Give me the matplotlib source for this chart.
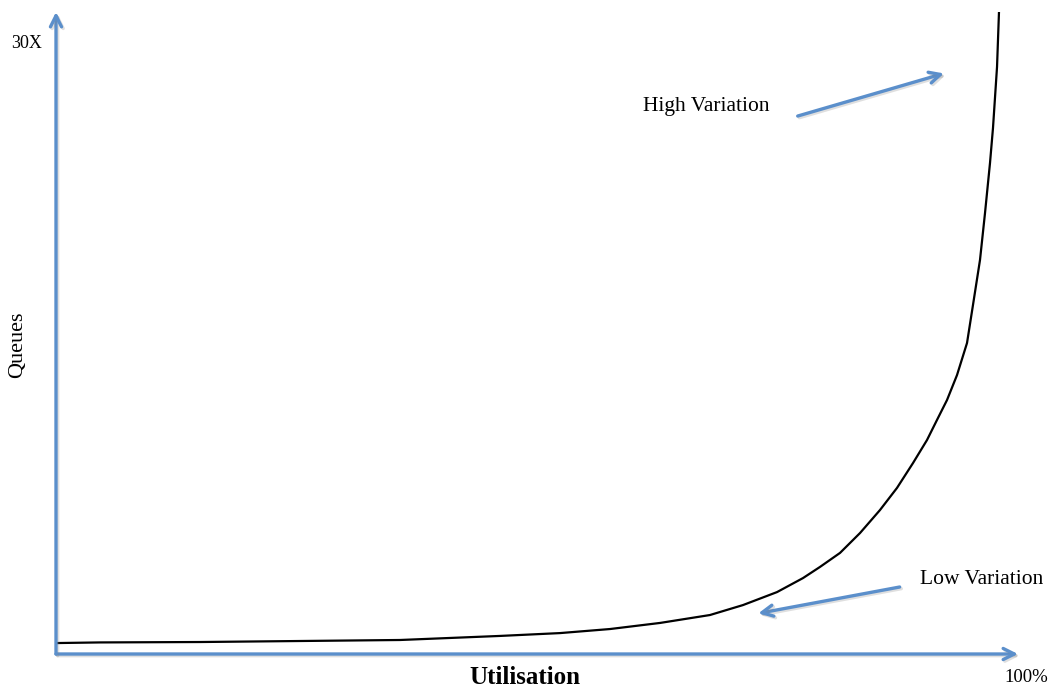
import matplotlib
matplotlib.use("Agg")
import matplotlib.pyplot as plt
import matplotlib.patheffects as pe

# utilisation (%) vs queue length (multiple of base)
utilisation = [0.21, 4.57, 14.97, 25.36, 35.76, 46.15, 52.39, 57.59, 62.79,
               67.98, 71.41, 74.95, 77.65, 79.42, 81.50, 83.58, 85.65, 87.42,
               89.09, 90.54, 91.58, 92.62, 93.66, 94.70, 95.32, 96.05, 96.57,
               97.09, 97.40, 97.82, 98.02]
queues = [0.54, 0.57, 0.59, 0.64, 0.69, 0.89, 1.03, 1.23, 1.53, 1.92, 2.41,
          3.05, 3.74, 4.29, 4.98, 5.96, 7.09, 8.18, 9.41, 10.54, 11.53, 12.51,
          13.74, 15.32, 17.19, 19.41, 21.72, 24.19, 25.91, 28.92, 31.58]

blue = "#5B8FCB"
plt.rcParams["font.family"] = ["Liberation Serif", "DejaVu Serif"]

fig = plt.figure(figsize=(10.5, 6.89), dpi=100)
W, H = 1050, 689
x0, x1, y0, y1 = 56, 1018, 654, 12
ax = fig.add_axes([x0 / W, (H - y0) / H, (x1 - x0) / W, (y0 - y1) / H])
ax.set_xlim(0, 100)
ax.set_ylim(0, (y0 - y1) / 20.3)
ax.axis("off")

ax.plot(utilisation, queues, color="black", lw=1.6, solid_joinstyle="round")

# axes as arrows, with a faint drop shadow
shadow = [pe.SimpleLineShadow(offset=(1.2, -1.2), shadow_color="gray", alpha=0.25),
          pe.Normal()]
arrow = dict(arrowstyle="->,head_length=0.8,head_width=0.4", color=blue, lw=2.4,
             shrinkA=0, shrinkB=0, path_effects=shadow)
ax.annotate("", xy=(1, 0), xytext=(0, 0), xycoords="axes fraction", arrowprops=arrow)
ax.annotate("", xy=(0, 1), xytext=(0, 0), xycoords="axes fraction", arrowprops=arrow)

# callouts
ax.annotate("", xy=(92.3, 28.6), xytext=(77.1, 26.5), arrowprops=arrow)
ax.annotate("", xy=(73.0, 2.0), xytext=(87.7, 3.3), arrowprops=arrow)

fig.text(643 / W, 1 - 107 / H, "High Variation", fontsize=15.5, va="center", ha="left")
fig.text(920 / W, 1 - 580 / H, "Low Variation", fontsize=15.5, va="center", ha="left")
fig.text(27 / W, 1 - 44 / H, "30X", fontsize=13, va="center", ha="center")
fig.text(1026 / W, 1 - 677 / H, "100%", fontsize=13.5, va="center", ha="center")
fig.text(18 / W, 1 - 345 / H, "Queues", fontsize=16, va="center", ha="center",
         rotation=90)
fig.text(525 / W, 1 - 677 / H, "Utilisation", fontsize=18, fontweight="bold",
         va="center", ha="center")

fig.savefig("out.png", dpi=100)
